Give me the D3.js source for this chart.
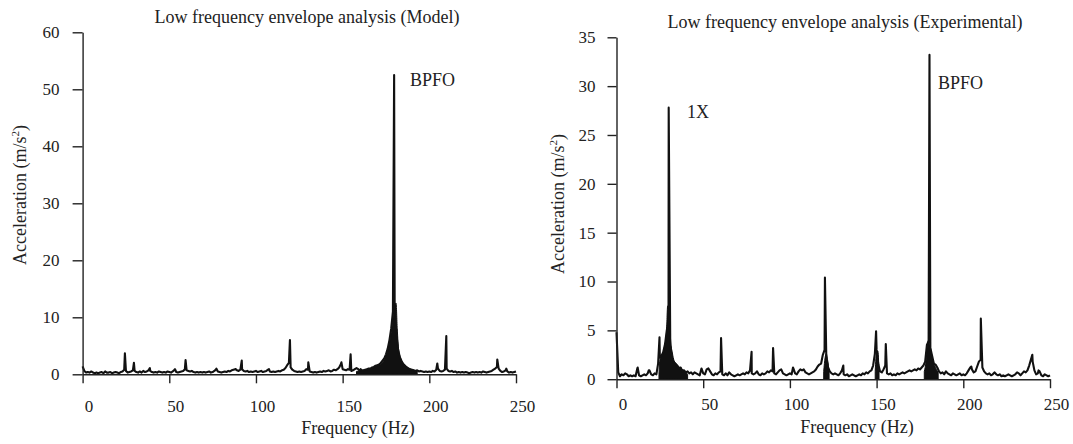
<!DOCTYPE html>
<html>
<head>
<meta charset="utf-8">
<script src="https://cdn.jsdelivr.net/npm/d3@7"></script>
<style>
  body { margin: 0; background: #fff; }
  svg { display: block; font-family: "Liberation Serif", "Times New Roman", serif; }
  .axis path, .axis line { stroke: #222; stroke-width: 1.4; }
  .axis text { fill: #222; font-size: 17px; font-family: "Liberation Serif", serif; }
  .label { fill: #222; font-size: 18px; }
  .spectrum { fill: none; stroke: #111; stroke-width: 2.1; stroke-linejoin: round; }
  .skirt { fill: #111; stroke: #111; stroke-width: 1; }
</style>
</head>
<body>
<svg id="chart" width="1073" height="444"></svg>
<script>
// ============== Data ==============
var xTicks = [0, 50, 100, 150, 200, 250];
var yTicksModel = [0, 10, 20, 30, 40, 50, 60];
var yTicksExp = [0, 5, 10, 15, 20, 25, 30, 35];

// noise floor, one value per Hz (0..250)
var floorModel = [
  1.4, 0.6, 0.3, 0.4, 0.3, 0.5, 0.3, 0.2, 0.3, 0.2,
  0.3, 0.4, 0.2, 0.5, 0.3, 0.3, 0.4, 0.2, 0.3, 0.4,
  0.3, 0.2, 0.4, 0.5, 0.8, 0.6, 0.3, 0.4, 0.5, 0.7,
  0.6, 0.4, 0.3, 0.5, 0.3, 0.6, 0.4, 0.5, 0.7, 0.6,
  0.4, 0.3, 0.4, 0.3, 0.5, 0.4, 0.3, 0.4, 0.3, 0.5,
  0.4, 0.3, 0.5, 0.8, 0.4, 0.3, 0.4, 0.5, 0.6, 0.9,
  0.7, 0.6, 0.5, 0.6, 0.4, 0.3, 0.4, 0.3, 0.4, 0.3,
  0.4, 0.3, 0.4, 0.5, 0.3, 0.4, 0.6, 0.9, 0.5, 0.4,
  0.3, 0.4, 0.5, 0.4, 0.6, 0.5, 0.7, 0.8, 0.9, 0.7,
  0.6, 0.8, 0.9, 0.6, 0.5, 0.6, 0.4, 0.5, 0.4, 0.5,
  0.6, 0.4, 0.5, 0.6, 0.4, 0.5, 0.6, 0.8, 0.5, 0.4,
  0.5, 0.4, 0.5, 0.6, 0.5, 0.7, 0.8, 1.1, 1.6, 2.0,
  1.2, 0.8, 0.6, 0.5, 0.4, 0.5, 0.4, 0.5, 0.6, 0.9,
  0.8, 0.5, 0.4, 0.3, 0.4, 0.3, 0.4, 0.5, 0.4, 0.6,
  0.5, 0.6, 0.7, 0.5, 0.6, 0.8, 0.7, 0.9, 1.2, 1.8,
  0.9, 0.8, 0.7, 0.9, 0.8, 0.6, 0.7, 0.9, 1.1, 0.9,
  0.6, 0.7, 0.7, 0.8, 0.9, 1.0, 1.0, 1.2, 1.3, 1.5,
  1.6, 1.7, 2.0, 2.4, 2.8, 3.5, 4.5, 6.0, 8.0, 11.0,
  12.5, 7.0, 4.3, 3.0, 2.3, 1.8, 1.5, 1.2, 1.0, 0.9,
  0.8, 0.7, 0.6, 0.7, 0.5, 0.6, 0.5, 0.4, 0.5, 0.4,
  0.5, 0.4, 0.6, 0.5, 0.8, 1.0, 0.6, 0.5, 0.6, 0.8,
  1.0, 0.6, 0.5, 0.6, 0.4, 0.5, 0.3, 0.4, 0.3, 0.4,
  0.3, 0.4, 0.3, 0.2, 0.3, 0.4, 0.3, 0.4, 0.3, 0.4,
  0.3, 0.5, 0.4, 0.3, 0.4, 0.5, 0.6, 0.8, 1.0, 1.3,
  1.0, 0.6, 0.4, 0.5, 0.7, 0.5, 0.3, 0.4, 0.3, 0.4,
  0.5
];
// [frequency Hz, amplitude]
var peaksModel = [
  [24.4, 3.7], [29.6, 2.0], [38.8, 1.1], [53.3, 0.9], [59.4, 2.5],
  [77.2, 1.0], [88.4, 0.9], [91.8, 2.4], [107.5, 0.9], [119.6, 6.0],
  [130.2, 2.1], [149.3, 2.1], [154.6, 3.5], [160.4, 0.9], [179.7, 52.5],
  [204.6, 1.9], [209.8, 6.7], [239.2, 2.6], [244.4, 1.0]
];
// dense band under the BPFO peak
var skirtModel = [
  [158, 0.5], [162, 0.7], [166, 1.0], [168, 1.3], [171.8, 1.7], [174, 2.6],
  [176.6, 4.9], [178.5, 8.4], [179.5, 11], [180.8, 12.5], [181.5, 8],
  [182.3, 4.3], [184.2, 2.3], [186, 1.6], [188, 1.1], [190, 0.8], [193, 0.6]
];

var floorExp = [
  4.8, 0.7, 0.3, 0.5, 0.4, 0.6, 0.5, 0.3, 0.4, 0.3,
  0.4, 0.3, 1.1, 0.4, 0.3, 0.4, 0.5, 0.4, 0.6, 0.9,
  0.5, 0.4, 0.6, 0.5, 1.6, 2.2, 2.4, 2.8, 3.6, 5.0,
  6.0, 3.5, 2.2, 1.7, 1.6, 1.3, 1.1, 1.2, 0.8, 0.9,
  0.7, 0.8, 0.6, 0.7, 0.5, 0.7, 0.6, 0.5, 0.4, 1.1,
  0.6, 0.5, 1.0, 1.1, 0.8, 0.5, 0.4, 0.6, 0.5, 0.7,
  0.8, 0.5, 0.4, 0.6, 0.4, 0.7, 0.5, 0.4, 0.3, 0.4,
  0.5, 0.4, 0.5, 0.6, 0.5, 0.7, 0.6, 0.9, 0.6, 0.5,
  0.6, 0.8, 0.5, 0.4, 0.6, 0.5, 0.6, 0.8, 0.7, 0.9,
  0.8, 0.6, 0.5, 0.7, 0.9, 1.0, 0.6, 0.5, 0.4, 0.5,
  0.6, 0.5, 1.1, 0.6, 0.5, 0.8, 1.0, 0.9, 1.0, 0.7,
  0.6, 0.5, 0.6, 0.7, 0.8, 1.0, 1.3, 1.5, 1.6, 2.5,
  3.0, 2.2, 1.2, 0.8, 0.6, 0.5, 0.6, 0.5, 0.4, 0.6,
  0.9, 0.5, 0.4, 0.5, 0.3, 0.4, 0.5, 0.4, 0.3, 0.4,
  0.5, 0.4, 0.6, 0.5, 0.7, 0.6, 0.8, 0.9, 1.4, 2.6,
  3.0, 1.5, 0.8, 0.7, 1.0, 1.4, 0.6, 0.5, 0.6, 0.4,
  0.5, 0.4, 0.6, 0.5, 0.6, 0.7, 0.6, 0.7, 0.8, 0.9,
  0.8, 0.9, 1.0, 0.9, 1.1, 1.0, 1.2, 1.4, 1.8, 3.5,
  3.9, 3.2, 2.4, 1.6, 1.5, 1.2, 0.8, 0.6, 0.7, 0.5,
  0.8, 0.6, 0.5, 0.4, 0.6, 0.5, 0.4, 0.5, 0.6, 0.4,
  0.5, 0.4, 0.6, 0.9, 1.2, 1.0, 0.7, 0.8, 1.3, 1.8,
  2.0, 1.2, 0.8, 0.6, 0.5, 0.6, 0.4, 0.5, 0.7, 0.5,
  0.4, 0.5, 0.3, 0.4, 0.3, 0.4, 0.5, 0.4, 0.3, 0.4,
  0.5, 0.7, 0.6, 0.4, 0.6, 0.8, 0.7, 0.9, 1.4, 2.0,
  1.8, 0.9, 0.5, 0.6, 0.8, 0.4, 0.3, 0.5, 0.4, 0.3,
  0.4
];
var peaksExp = [
  [12.2, 1.2], [18.6, 0.9], [24.8, 4.3], [30.1, 27.8], [60.3, 4.2],
  [77.9, 2.8], [90.3, 3.2], [101.8, 1.2], [120.2, 10.4], [130.8, 1.4],
  [149.7, 4.9], [155.3, 3.6], [180.5, 33.2], [204.6, 1.3], [210.1, 6.2],
  [239.8, 2.5], [243.4, 0.9]
];
var skirtExp = [
  [24.5, 0.5], [25, 2.0], [26, 2.4], [27, 2.9], [28, 3.6], [28.8, 4.7],
  [29.5, 7.5], [30.5, 7.2], [31.2, 4.0], [32.2, 2.7], [33.2, 1.9],
  [35, 1.5], [37, 1.1], [39, 0.9], [41, 0.5],
  [119.5, 0.8], [120.3, 2.2], [121, 2.6], [121.8, 1.9], [122.6, 0.8],
  [149.2, 0.8], [150, 2.8], [150.7, 2.9], [151.4, 0.8],
  [177.5, 0.8], [178.5, 1.8], [179.4, 3.7], [180, 4.0], [181, 3.3], [182, 2.3], [183.5, 1.4], [185.5, 0.7]
];

var svg = d3.select('#chart');

// ============== Panel ==============
function drawPanel(o){
  var x = d3.scaleLinear().domain([0, 250]).range([o.left, o.right]);
  var y = d3.scaleLinear().domain([0, o.yMax]).range([o.bottom, o.top]);
  var g = svg.append('g');

  var series = o.floor.map((a, i) =>{return [i, a]})
    .concat(o.peaks)
    .sort((a, b) =>{return a[0] - b[0]});

  // skirt bands (split where the value drops back to the floor)
  var bands = [], cur = [];
  o.skirt.forEach((d, i) =>{
    if(i > 0 && d[0] - o.skirt[i-1][0] > 5){ bands.push(cur); cur = []; }
    cur.push(d);
  });
  bands.push(cur);

  var area = d3.area()
    .x((d) =>{return x(d[0])})
    .y0(y(0))
    .y1((d) =>{return y(d[1])})
    .curve(d3.curveMonotoneX);

  g.selectAll('.skirt')
    .data(bands)
    .enter()
    .append('path')
    .attr('class', 'skirt')
    .attr('d', area);

  var line = d3.line()
    .x((d) =>{return x(d[0])})
    .y((d) =>{return y(d[1])});

  g.append('path')
    .datum(series)
    .attr('class', 'spectrum')
    .attr('d', line);

  // axes
  g.append('g')
    .attr('class', 'axis')
    .attr('transform', 'translate(0,' + o.bottom + ')')
    .call(d3.axisBottom(x).tickValues(xTicks).tickSize(9).tickSizeOuter(0).tickPadding(o.xPad))
    .selectAll('text').attr('dx', 6);

  g.append('g')
    .attr('class', 'axis')
    .attr('transform', 'translate(' + o.left + ',0)')
    .call(d3.axisLeft(y).tickValues(o.yTicks).tickSize(o.yTick).tickSizeOuter(0).tickPadding(o.yPad));

  // titles
  g.append('text')
    .attr('class', 'label')
    .attr('x', o.titleX).attr('y', o.titleY)
    .attr('text-anchor', 'middle')
    .attr('font-size', 18.5)
    .text(o.title);

  g.append('text')
    .attr('class', 'label')
    .attr('x', o.xLabelX).attr('y', o.xLabelY)
    .attr('text-anchor', 'middle')
    .text('Frequency (Hz)');

  var yl = g.append('text')
    .attr('class', 'label')
    .attr('text-anchor', 'middle')
    .attr('transform', 'translate(' + o.yLabelX + ',' + o.yLabelY + ') rotate(-90)');
  yl.append('tspan').text('Acceleration (m/s');
  yl.append('tspan').attr('dy', -7).attr('font-size', 11).text('2');
  yl.append('tspan').attr('dy', 7).text(')');

  o.notes.forEach((n) =>{
    g.append('text')
      .attr('class', 'label')
      .attr('x', n.x).attr('y', n.y)
      .attr('font-size', n.size)
      .text(n.text);
  });
}

drawPanel({
  left: 82.6, right: 516, top: 32.3, bottom: 374.3, yMax: 60,
  yTicks: yTicksModel, yTick: 10, yPad: 13, xPad: 17,
  floor: floorModel, peaks: peaksModel, skirt: skirtModel,
  title: 'Low frequency envelope analysis (Model)', titleX: 307, titleY: 23,
  xLabelX: 358, xLabelY: 434, yLabelX: 26, yLabelY: 195,
  notes: [{text: 'BPFO', x: 410, y: 86, size: 16}]
});

drawPanel({
  left: 616.5, right: 1050, top: 37.3, bottom: 379.2, yMax: 35,
  yTicks: yTicksExp, yTick: 9, yPad: 12, xPad: 10,
  floor: floorExp, peaks: peaksExp, skirt: skirtExp,
  title: 'Low frequency envelope analysis (Experimental)', titleX: 845, titleY: 28,
  xLabelX: 857, xLabelY: 433, yLabelX: 564, yLabelY: 204,
  notes: [{text: '1X', x: 687, y: 118, size: 18}, {text: 'BPFO', x: 938, y: 89, size: 18}]
});
</script>
</body>
</html>
